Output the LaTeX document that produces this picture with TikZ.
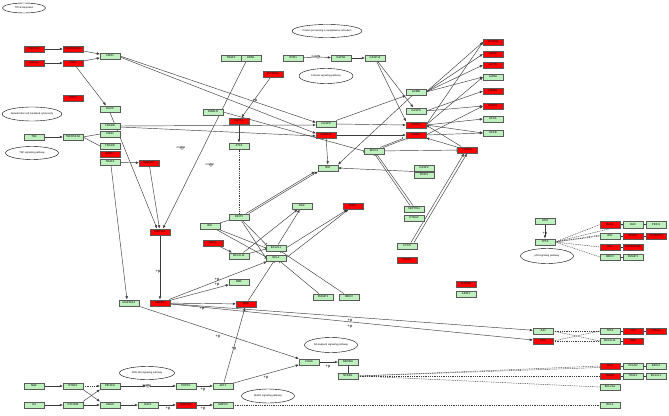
\documentclass[tikz,border=0pt]{standalone}
\usepackage{fontspec}
\setmainfont{Liberation Sans}
\usetikzlibrary{arrows.meta,shapes.geometric,backgrounds}
\definecolor{kgreen}{RGB}{190,240,190}
\definecolor{kred}{RGB}{255,0,0}
\definecolor{kedge}{RGB}{90,90,90}
\definecolor{kline}{RGB}{60,60,60}
\tikzset{
  gene/.style={draw=kedge, line width=0.5pt, minimum width=19.5pt, minimum height=6.5pt, inner sep=0pt, font=\fontsize{2.8}{3}\selectfont},
  gnode/.style={gene, fill=kgreen},
  rnode/.style={gene, fill=kred},
  pway/.style={ellipse, draw=black, line width=0.4pt, fill=white, inner sep=0pt, font=\fontsize{2.5}{3}\selectfont},
  cpd/.style={circle, draw=black, line width=0.3pt, minimum size=3pt, inner sep=0pt},
  ctext/.style={font=\fontsize{2.5}{3}\selectfont, inner sep=0pt},
  lk/.style={draw=kline, line width=0.45pt},
  arr/.style={lk, -{Latex[length=3.2pt,width=2.6pt]}},
  inhib/.style={lk, -{Bar[width=3.5pt]}},
  expr/.style={lk, dash pattern=on 1pt off 0.8pt},
  plab/.style={font=\fontsize{4}{4}\selectfont, inner sep=0pt}
}
\begin{document}
\begin{tikzpicture}[x=1pt,y=-1pt]
\useasboundingbox (0,0) rectangle (669,415);
% ---------- pathway ellipses ----------
\node[pway, minimum width=43pt, minimum height=10pt] (title) at (24,8) {TITLE:Apoptosis};
\node[pway, minimum width=55pt, minimum height=14pt] (nkp) at (32,114) {Natural killer cell mediated cytotoxicity};
\node[pway, minimum width=53pt, minimum height=13pt] (tnfp) at (32,153) {TNF signaling pathway};
\node[pway, minimum width=70pt, minimum height=13pt] (erp) at (327,31) {Protein processing in endoplasmic reticulum};
\node[pway, minimum width=54pt, minimum height=15pt] (cap) at (326,76) {Calcium signaling pathway};
\node[pway, minimum width=53pt, minimum height=15pt] (p53p) at (547,256) {p53 signaling pathway};
\node[pway, minimum width=53pt, minimum height=15pt] (nfkbp) at (331,345) {NF-kappa B signaling pathway};
\node[pway, minimum width=55pt, minimum height=13pt] (pi3kp) at (147,373) {PI3K-Akt signaling pathway};
\node[pway, minimum width=53pt, minimum height=14pt] (mapkp) at (268,396) {MAPK signaling pathway};
% ---------- left receptors ----------
\node[rnode] (tnfsf10) at (34,49) {TNFSF10};
\node[rnode] (tnfrsf10b) at (73,49) {TNFRSF10B};
\node[rnode] (fasl) at (34,63) {FASLG};
\node[rnode] (fas) at (73,63) {FAS};
\node[gnode] (fadd1) at (110,56) {FADD};
\node[rnode] (prf1) at (73,98) {PRF1};
\node[gnode] (daxx) at (110,109) {DAXX};
\node[gnode] (tradd1) at (110,126) {TRADD};
\node[gnode] (fadd2) at (110,134) {FADD};
\node[gnode] (tnf) at (34,137) {TNF};
\node[gnode] (tnfr1) at (73,137) {TNFRSF1A};
\node[gnode] (tradd2) at (110,146) {TRADD};
\node[rnode] (ripk1) at (110,154) {RIPK1};
\node[gnode] (traf2a) at (110,162) {TRAF2};
\node[rnode] (map3k7) at (149,163) {MAP3K7};
\node[rnode] (map3k5) at (160,232) {MAP3K5};
\node[gnode] (map3k14) at (129,303) {MAP3K14};
\node[rnode] (mapk8) at (160,303) {MAPK8};
% ---------- ER / calcium ----------
\node[gnode] (traf2b) at (231,58) {TRAF2};
\node[gnode] (ern1) at (251,58) {ERN1};
\node[gnode] (itpr1) at (293,58) {ITPR1};
\node[cpd] (ca2) at (318,57) {};
\node[ctext] (ca2t) at (316,57) {C00076};
\node[gnode] (capn1) at (341,58) {CAPN1};
\node[gnode] (casp12) at (375,58) {CASP12};
\node[rnode] (eif2ak3) at (273,74) {EIF2AK3};
\node[gnode] (diablo) at (213,112) {DIABLO};
\node[rnode] (eif2s1) at (239,121) {EIF2S1};
\node[gnode] (atf4) at (239,146) {ATF4};
\node[cpd] (cpdA) at (182,148) {};
\node[ctext] (cpdAt) at (181,148) {C00195};
\node[cpd] (cpdB) at (211,165) {};
\node[ctext] (cpdBt) at (210,165) {C00027};
\node[gnode] (ddit3) at (239,217) {DDIT3};
% ---------- caspases ----------
\node[gnode] (casp8) at (326,124) {CASP8};
\node[rnode] (casp10) at (326,135) {CASP10};
\node[gnode] (bid) at (328,168) {BID};
\node[gnode] (birc2) at (374,151) {BIRC2};
\node[rnode] (casp9) at (467,150) {CASP9};
\node[gnode] (casp2) at (424,168) {CASP2};
\node[gnode] (pidd1) at (424,175) {PIDD1};
\node[gnode] (gzmb) at (416,92) {GZMB};
\node[gnode] (casp6) at (416,111) {CASP6};
\node[rnode] (casp3) at (416,125) {CASP3};
\node[rnode] (casp7) at (416,135) {CASP7};
% substrates
\node[rnode] (s1) at (493,42) {SPTAN1};
\node[rnode] (s2) at (493,54) {GAS2};
\node[rnode] (s3) at (493,65) {ACTB};
\node[gnode] (s4) at (493,77) {LMNA};
\node[rnode] (s5) at (493,91) {LMNB1};
\node[rnode] (s6) at (493,106) {PARP1};
\node[gnode] (s7) at (493,119) {DFFA};
\node[gnode] (s8) at (493,133) {DFFB};
% ---------- mitochondria ----------
\node[gnode] (bax) at (302,206) {BAX};
\node[rnode] (bak1) at (353,206) {BAK1};
\node[gnode] (sept4) at (414,209) {SEPTIN4};
\node[gnode] (htra2) at (414,218) {HTRA2};
\node[gnode] (cycs) at (407,246) {CYCS};
\node[rnode] (apaf1) at (407,260) {APAF1};
\node[gnode] (bik) at (210,226) {BIK};
\node[rnode] (mcl1) at (213,243) {MCL1};
\node[gnode] (bcl2l11) at (239,256) {BCL2L11};
\node[gnode] (bcl2l1) at (276,248) {BCL2L1};
\node[gnode] (bcl2) at (276,258) {BCL2};
\node[gnode] (bmf) at (239,282) {BMF};
\node[rnode] (bad) at (246,304) {BAD};
\node[gnode] (pmaip1) at (323,297) {PMAIP1};
\node[gnode] (bbc3) at (349,297) {BBC3};
\node[rnode] (endog) at (466,284) {ENDOG};
\node[gnode] (aifm1) at (466,294) {AIFM1};
% ---------- p53 ----------
\node[gnode] (atm) at (545,221) {ATM};
\node[gnode] (tp53) at (545,242) {TP53};
\node[rnode] (pa1) at (610,224.5) {BAK1};
\node[gnode] (pa2) at (633,224.5) {BAX};
\node[gnode] (pa3) at (656,224.5) {PIDD1};
\node[gnode] (pb1) at (610,236) {BID};
\node[rnode] (pb2) at (633,236) {APAF1};
\node[rnode] (pb3) at (656,236) {TP53AIP1};
\node[rnode] (pc1) at (610,247) {FAS};
\node[rnode] (pc2) at (633,247) {TNFRSF10B};
\node[gnode] (pd1) at (610,257) {BBC3};
\node[gnode] (pd2) at (633,257) {PMAIP1};
% ---------- AP-1 ----------
\node[gnode] (jun) at (543,331) {JUN};
\node[rnode] (fos) at (543,341) {FOS};
\node[gnode] (ja1) at (610,331) {TP53};
\node[rnode] (ja2) at (633,331) {TNF};
\node[rnode] (ja3) at (656,331) {FASLG};
\node[gnode] (jb1) at (610,341) {BCL2L11};
\node[rnode] (jb2) at (633,341) {HRK};
% ---------- NF-kB ----------
\node[gnode] (chuk) at (309,362) {CHUK};
\node[gnode] (nfkbia) at (348,362) {NFKBIA};
\node[gnode] (nfkb1) at (348,376) {NFKB1};
\node[rnode] (na1) at (610,366) {XIAP};
\node[gnode] (na2) at (633,366) {CFLAR};
\node[gnode] (na3) at (656,366) {BIRC2};
\node[rnode] (nb1) at (610,376) {TRAF2};
\node[gnode] (nb2) at (633,376) {TRAF1};
\node[gnode] (nb3) at (656,376) {BCL2L1};
\node[gnode] (nc1) at (610,387) {BCL2A1};
% ---------- bottom left ----------
\node[gnode] (ngf) at (34,386) {NGF};
\node[gnode] (ntrk1) at (73,386) {NTRK1};
\node[gnode] (pik3ca) at (110,386) {PIK3CA};
\node[cpd] (pip3) at (148,386) {};
\node[ctext] (pip3t) at (147,386) {C05981};
\node[gnode] (pdpk1) at (186,386) {PDPK1};
\node[gnode] (akt1) at (223,386) {AKT1};
\node[gnode] (il3) at (34,405) {IL3};
\node[gnode] (csf2rb) at (73,405) {CSF2RB};
\node[gnode] (hras) at (110,405) {HRAS};
\node[gnode] (raf1) at (148,405) {RAF1};
\node[rnode] (map2k1) at (186,405) {MAP2K1};
\node[gnode] (mapk3) at (223,405) {MAPK3};
\node[gnode] (bcl2b) at (610,405) {BCL2};
% ---------- +p labels ----------
\node[plab] (q1) at (255,101) {+p};
\node[plab] (q2) at (158,272) {+p};
\node[plab] (q3) at (217,280) {+p};
\node[plab] (q4) at (217,285) {+p};
\node[plab] (q5) at (202,309) {+p};
\node[plab] (q6) at (350,321) {+p};
\node[plab] (q7) at (350,327) {+p};
\node[plab] (q8) at (218,337) {+p};
\node[plab] (q9) at (234,349) {+p};
\node[plab] (q10) at (266,378) {+p};
\node[plab] (q11) at (328,367) {+p};
\node[plab] (q12) at (203,390) {+p};
\node[plab] (q13) at (168,409) {+p};
\node[plab] (q14) at (203,409) {+p};
\node[plab] (q15) at (545,234) {+p};
% =========== connectors (behind nodes) ===========
\begin{scope}[on background layer]
\fill[white] (0,0) rectangle (669,415);
% receptors
\draw[arr] (tnfsf10) -- (tnfrsf10b);
\draw[arr] (fasl) -- (fas);
\draw[arr] (tnfrsf10b) -- (fadd1);
\draw[arr] (fas) -- (fadd1);
\draw[arr] ([xshift=3pt]fas.south) -- ([xshift=-4pt]daxx.north);
\draw[arr] (tnf) -- (tnfr1);
\draw[lk] (tnfr1.east) -- (fadd2.west);
\draw[lk] (tnfr1.east) -- (tradd2.west);
\draw[arr] (traf2a) -- (map3k7);
\draw[arr] (map3k7) -- (map3k5);
\draw[arr] (daxx.south) -- ([xshift=-3pt]map3k5.north);
\draw[arr] ([xshift=5pt]ern1.south west) -- ([xshift=3pt]map3k5.north);
\draw[arr] ([xshift=1pt]traf2a.south) -- ([xshift=-2pt]map3k14.north);
\draw[arr] (map3k5) -- (mapk8);
\draw[arr] (fadd1.east) -- ([yshift=1.5pt]casp8.west);
\draw[arr] ([yshift=-1pt]fadd1.east) -- ([yshift=1.5pt]casp10.west);
\draw[arr] (tradd1.east) -- ([yshift=-1pt]casp8.west);
\draw[arr] ([yshift=-1pt]tradd1.east) -- ([yshift=-1pt]casp10.west);
% ER / calcium
\draw[lk] (itpr1) -- (ca2);
\draw[arr] (ca2) -- (capn1);
\draw[arr] (capn1) -- (casp12);
\draw[arr] (eif2ak3) -- (eif2s1);
\draw[arr] (eif2s1) -- (atf4);
\draw[expr] (atf4) -- (ddit3);
\draw[inhib] (diablo.east) -- (birc2.west);
% caspases
\draw[arr] (casp8.east) -- (casp3.west);
\draw[arr] (casp10.east) -- (casp7.west);
\draw[arr] (casp8.north east) -- (gzmb.south west);
\draw[arr] (casp10) -- (bid);
\draw[arr] (gzmb) -- (bid.north east);
\draw[arr] (casp2.south west) -- (bid.east);
\draw[arr] (casp12) -- (casp6);
\draw[arr] (casp12) -- (casp3.north west);
\draw[arr] (casp9) -- (casp3.east);
\draw[arr] (casp9) -- (casp7);
\draw[arr] ([xshift=4pt]cycs.north) -- ([xshift=-3pt]casp9.south);
\draw[arr] ([xshift=7pt]cycs.north) -- (casp9.south);
\draw[inhib] (birc2) -- (casp9);
\draw[inhib] (birc2) -- (casp7);
\draw[inhib] ([xshift=-4pt]birc2.north east) -- ([xshift=-3pt]casp7.south west);
\draw[inhib] ([xshift=-4pt]sept4.north) -- ([xshift=1pt]birc2.south);
\draw[inhib] ([xshift=-1pt]sept4.north) -- ([xshift=3pt]birc2.south);
% substrates
\draw[arr] (gzmb.east) -- (s1.west);
\draw[arr] (gzmb.east) -- (s2.west);
\draw[arr] (gzmb.east) -- (s3.west);
\draw[arr] (gzmb.east) -- (s4.west);
\draw[arr] (casp6.east) -- (s5.west);
\draw[arr] (casp6.east) -- (s6.west);
\draw[arr] (casp3.east) -- (s1.west);
\draw[arr] (casp3.east) -- (s4.west);
\draw[arr] (casp3.east) -- (s7.west);
\draw[arr] (casp3.east) -- (s8.west);
\draw[arr] (casp7.east) -- (s6.west);
\draw[arr] (casp7.east) -- (s8.west);
% Bcl-2 family
\draw[arr] (bcl2l11) -- (bax);
\draw[arr] (bcl2l1) -- (bax);
\draw[arr] (bcl2l1.east) -- (bak1);
\draw[arr] (bcl2.east) -- (bak1);
\draw[arr] (ddit3.north east) -- (bid.south west);
\draw[arr] ([xshift=-3pt]ddit3.north east) -- ([xshift=-3pt]bid.south west);
\draw[inhib] (ddit3) -- (bcl2l1.north west);
\draw[inhib] (ddit3) -- (bcl2.west);
\draw[lk] (bik) -- (ddit3);
\draw[inhib] (bik) -- (bcl2l1.west);
\draw[inhib] (bik) -- ([yshift=1pt]bcl2.west);
\draw[arr] (mcl1) -- (bcl2l11);
\draw[inhib] (bcl2l11) -- ([yshift=-1pt]bcl2l1.west);
\draw[arr] (mapk8) -- (bmf);
\draw[arr] (mapk8) -- (bcl2);
\draw[arr] (mapk8) -- (bad);
\draw[arr] (akt1) -- (bad);
\draw[inhib] (bad) -- (bcl2);
\draw[inhib] (pmaip1) -- (bcl2);
\draw[inhib] (bbc3) -- (bcl2l1);
\draw[arr] (mapk8) -- (jun);
\draw[arr] (mapk8) -- (fos);
% NF-kB
\draw[arr] (map3k14) -- (chuk);
\draw[arr] (akt1) -- (chuk);
\draw[arr] (chuk) -- (nfkbia);
\draw[lk] (nfkbia) -- (nfkb1);
\draw[expr] (nfkb1.east) -- (na1.west);
\draw[expr] (nfkb1.east) -- ([yshift=-1.5pt]na1.west);
\draw[expr] (nfkb1.east) -- (nb1.west);
\draw[expr] (nfkb1.east) -- (nc1.west);
\draw[lk] (na1) -- (na2); \draw[lk] (na2) -- (na3);
\draw[lk] (nb1) -- (nb2); \draw[lk] (nb2) -- (nb3);
% AP-1
\draw[expr] (jun.east) -- (ja1.west);
\draw[expr] (jun.east) -- (jb1.west);
\draw[expr] (fos.east) -- (ja1.west);
\draw[expr] (fos.east) -- (jb1.west);
\draw[lk] (ja1) -- (ja2); \draw[lk] (ja2) -- (ja3);
\draw[lk] (jb1) -- (jb2);
% p53
\draw[arr] (atm) -- (tp53);
\draw[expr] (tp53.east) -- (pa1.west);
\draw[expr] (tp53.east) -- ([yshift=-1pt]pa2.west);
\draw[expr] (tp53.east) -- (pb1.west);
\draw[expr] (tp53.east) -- ([yshift=1pt]pb1.west);
\draw[expr] (tp53.east) -- (pc1.west);
\draw[expr] (tp53.east) -- (pd1.west);
\draw[lk] (pa1) -- (pa2); \draw[lk] (pa2) -- (pa3);
\draw[lk] (pb1) -- (pb2); \draw[lk] (pb2) -- (pb3);
\draw[lk] (pc1) -- (pc2); \draw[lk] (pd1) -- (pd2);
% bottom left
\draw[arr] (ngf) -- (ntrk1);
\draw[arr] (il3) -- (csf2rb);
\draw[expr, -{Latex[length=3.2pt,width=2.6pt]}] (ntrk1) -- (pik3ca);
\draw[arr] (ntrk1.south east) -- (hras.north west);
\draw[arr] (csf2rb.north east) -- (pik3ca.south west);
\draw[arr] (csf2rb) -- (hras);
\draw[arr] (pik3ca) -- (pip3);
\draw[arr] (pip3) -- (pdpk1);
\draw[arr] (pdpk1) -- (akt1);
\draw[arr] (hras) -- (raf1);
\draw[arr] (raf1) -- (map2k1);
\draw[arr] (map2k1) -- (mapk3);
\draw[expr] (mapk3) -- (bcl2b);
\end{scope}
\end{tikzpicture}
\end{document}
